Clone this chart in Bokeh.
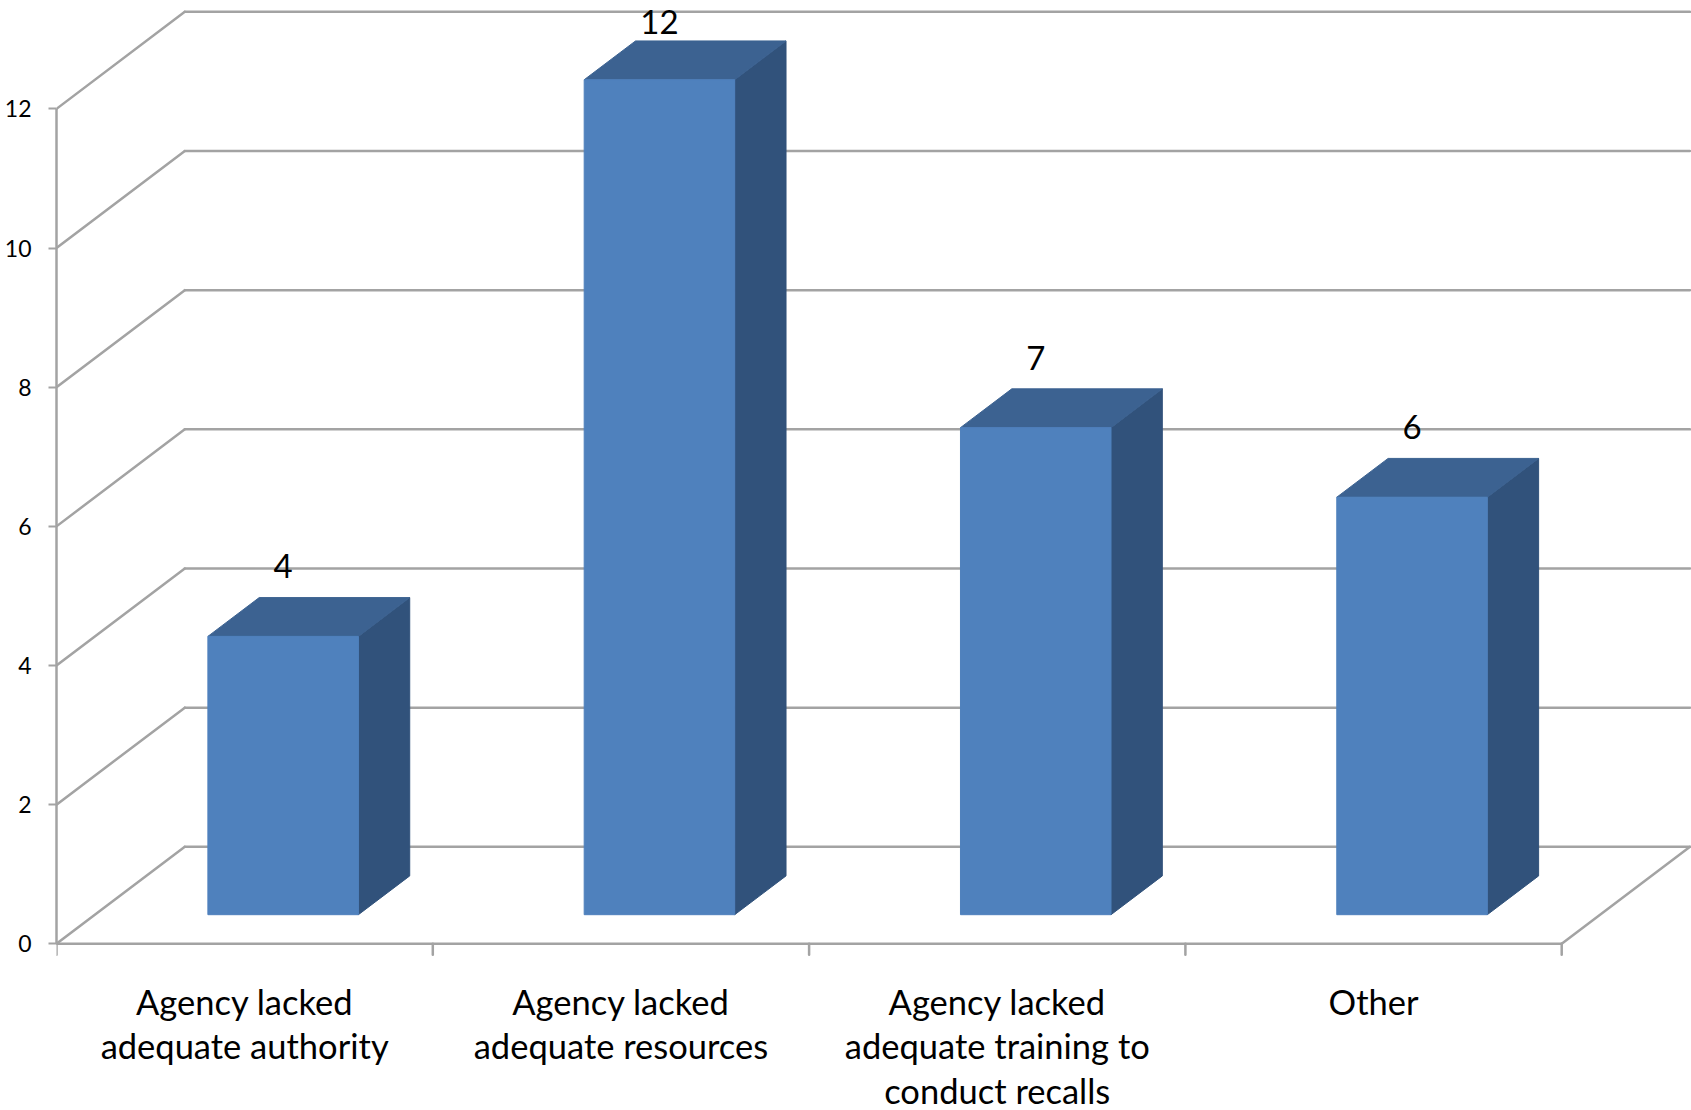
from bokeh.plotting import figure
from bokeh.models import Range1d, FixedTicker
from bokeh.embed import file_html
from bokeh.resources import INLINE
from bokeh.core.properties import value

# ---- data ----
categories = ["Agency lacked\nadequate authority",
              "Agency lacked\nadequate resources",
              "Agency lacked\nadequate training to\nconduct recalls",
              "Other"]
counts = [4, 12, 7, 6]
y_ticks = [0, 2, 4, 6, 8, 10, 12]

# ---- layout / style ----
W, H = 1691, 1110
LEFT = 56
CAT_PX = 376.3
UNIT_PX = 69.58
ZERO_PX = 943.3
DX = 128.3 / CAT_PX
DY = 97.0 / UNIT_PX
D0, D1 = 0.3, 0.7        # bar depth span
B0, B1 = 0.3, 0.7        # bar span within category
GRID = "#A3A3A3"
FRONT = "#4F81BD"
TOP = "#3C6291"
SIDE = "#31527B"
FONT = "Lato"

n = len(categories)
x_end = (W - LEFT) / CAT_PX
y_end = ZERO_PX / UNIT_PX
y_start = -(H - ZERO_PX) / UNIT_PX


def proj(x, v, d):
    return x + d * DX, v + d * DY


p = figure(width=W, height=H, x_range=Range1d(0, x_end), y_range=Range1d(y_start, y_end),
           output_backend="svg", toolbar_location=None, x_axis_location=None,
           min_border_left=LEFT, min_border_right=0, min_border_top=0, min_border_bottom=0)
p.outline_line_color = None
p.xgrid.visible = False
p.ygrid.visible = False
p.background_fill_color = "white"
p.border_fill_color = "white"

# y axis
ya = p.yaxis[0]
ya.ticker = FixedTicker(ticks=y_ticks, minor_ticks=[])
ya.bounds = (min(y_ticks), max(y_ticks))
ya.axis_line_color = GRID
ya.axis_line_width = 2.5
ya.major_tick_line_color = GRID
ya.major_tick_line_width = 2
ya.major_tick_out = 8
ya.major_tick_in = 0
ya.minor_tick_line_color = None
ya.major_label_text_font = FONT
ya.major_label_text_font_size = "23px"
ya.major_label_text_color = "black"
ya.major_label_standoff = 17

# walls
x0s, y0s, x1s, y1s = [], [], [], []
for t in y_ticks:
    a = proj(0, t, 1); b = proj(n, t, 1)
    x0s.append(a[0]); y0s.append(a[1]); x1s.append(b[0]); y1s.append(b[1])
    a = proj(0, t, 0); b = proj(0, t, 1)
    x0s.append(a[0]); y0s.append(a[1]); x1s.append(b[0]); y1s.append(b[1])
# floor front and right edges
a = proj(0, 0, 0); b = proj(n, 0, 0)
x0s.append(a[0]); y0s.append(a[1]); x1s.append(b[0]); y1s.append(b[1])
a = proj(n, 0, 0); b = proj(n, 0, 1)
x0s.append(a[0]); y0s.append(a[1]); x1s.append(b[0]); y1s.append(b[1])
# category boundary ticks
tick_len = 11 / UNIT_PX
for i in range(n + 1):
    x0s.append(i); y0s.append(0); x1s.append(i); y1s.append(-tick_len)
p.segment(x0s, y0s, x1s, y1s, line_color=GRID, line_width=2.5, line_cap="round")

# bars
fx, fy, sx, sy, tx, ty = [], [], [], [], [], []
for i, v in enumerate(counts):
    xl, xr = i + B0, i + B1
    pts = [proj(xl, 0, D0), proj(xr, 0, D0), proj(xr, v, D0), proj(xl, v, D0)]
    fx.append([q[0] for q in pts]); fy.append([q[1] for q in pts])
    pts = [proj(xr, 0, D0), proj(xr, 0, D1), proj(xr, v, D1), proj(xr, v, D0)]
    sx.append([q[0] for q in pts]); sy.append([q[1] for q in pts])
    pts = [proj(xl, v, D0), proj(xr, v, D0), proj(xr, v, D1), proj(xl, v, D1)]
    tx.append([q[0] for q in pts]); ty.append([q[1] for q in pts])
p.patches(sx, sy, fill_color=SIDE, line_color=SIDE, line_width=1)
p.patches(tx, ty, fill_color=TOP, line_color=TOP, line_width=1)
p.patches(fx, fy, fill_color=FRONT, line_color=FRONT, line_width=1)

# value labels
lab_x = [i + (B0 + B1) / 2 + D0 * DX for i in range(n)]
lab_y = [min(v + D0 * DY + 70 / UNIT_PX, y_end - 21 / UNIT_PX) for v in counts]
p.text(lab_x, lab_y, text=[str(v) for v in counts], text_align="center", text_baseline="middle",
       text_font=value(FONT), text_font_size="33px", text_color="black")

# category labels (one glyph per line)
line_gap = 44.8 / UNIT_PX
first_base = -(1000.5 - ZERO_PX) / UNIT_PX
cx, cy, ct = [], [], []
for i, c in enumerate(categories):
    for k, ln in enumerate(c.split("\n")):
        cx.append(i + 0.5); cy.append(first_base - k * line_gap); ct.append(ln)
p.text(cx, cy, text=ct, text_align="center", text_baseline="alphabetic",
       text_font=value(FONT), text_font_size="34.5px", text_color="black")

open("out.html", "w").write(file_html(p, INLINE))
